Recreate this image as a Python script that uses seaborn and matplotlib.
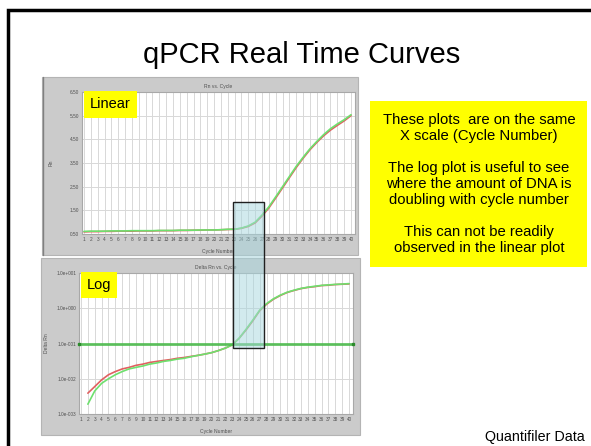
import numpy as np
import pandas as pd
import matplotlib
matplotlib.use('Agg')
import matplotlib.pyplot as plt
from matplotlib.patches import Rectangle
import seaborn as sns

#-------Settings
sns.set_theme(style="white")
plt.rcParams['font.family'] = ['Liberation Sans', 'DejaVu Sans']
plt.rcParams['text.color'] = 'black'

W, H = 591, 446

#------Data
cycles = list(range(1, 41))

rn_green = [0.61, 0.62, 0.62, 0.62, 0.63, 0.63, 0.63, 0.64, 0.64, 0.64,
            0.64, 0.65, 0.65, 0.65, 0.66, 0.66, 0.66, 0.67, 0.67, 0.67,
            0.68, 0.70, 0.70, 0.75, 0.84, 1.00, 1.30, 1.65, 2.07, 2.50,
            2.93, 3.36, 3.74, 4.10, 4.41, 4.70, 4.95, 5.15, 5.33, 5.54]
rn_red = [0.59, 0.60, 0.60, 0.61, 0.61, 0.62, 0.62, 0.62, 0.63, 0.63,
          0.63, 0.64, 0.64, 0.64, 0.65, 0.65, 0.66, 0.66, 0.67, 0.67,
          0.68, 0.69, 0.70, 0.74, 0.82, 0.97, 1.26, 1.60, 2.02, 2.45,
          2.88, 3.31, 3.70, 4.06, 4.37, 4.65, 4.89, 5.09, 5.28, 5.50]

cycles_log = list(range(2, 41))
drn_red = [0.0039, 0.006, 0.0093, 0.013, 0.016, 0.019, 0.021, 0.024, 0.026,
           0.029, 0.031, 0.033, 0.035, 0.038, 0.040, 0.043, 0.046, 0.050, 0.055,
           0.063, 0.074, 0.091, 0.14, 0.24, 0.44, 0.85, 1.3, 1.8, 2.3,
           2.8, 3.2, 3.6, 3.9, 4.1, 4.4, 4.5, 4.7, 4.8, 4.9]
drn_green = [0.0019, 0.0045, 0.0074, 0.010, 0.013, 0.016, 0.019, 0.021, 0.023,
             0.026, 0.028, 0.031, 0.033, 0.036, 0.038, 0.042, 0.046, 0.050, 0.055,
             0.063, 0.074, 0.091, 0.14, 0.25, 0.46, 0.88, 1.35, 1.85, 2.35,
             2.85, 3.25, 3.65, 3.95, 4.2, 4.45, 4.6, 4.75, 4.85, 5.0]
threshold = 0.1

lin_ticks = [0.5, 1.5, 2.5, 3.5, 4.5, 5.5, 6.5]
lin_labels = ['0.50', '1.50', '2.50', '3.50', '4.50', '5.50', '6.50']
log_ticks = [1e-3, 1e-2, 1e-1, 1e0, 1e1]
log_labels = ['1.0e-003', '1.0e-002', '1.0e-001', '1.0e+000', '1.0e+001']

box_cycles = (22.8, 27.6)
box_top_rn = 1.85
box_bottom_drn = 0.077

df_lin = pd.DataFrame({'Cycle': cycles * 2, 'Rn': rn_red + rn_green,
                       'Well': ['A'] * 40 + ['B'] * 40})
df_log = pd.DataFrame({'Cycle': cycles_log * 2, 'Delta Rn': drn_red + drn_green,
                       'Well': ['A'] * 39 + ['B'] * 39})
palette = {'A': '#e06060', 'B': '#6ee06e'}


def rect(x0, y0, x1, y1):
    # pixel box (top-left origin) -> figure fraction
    return [x0 / W, 1 - y1 / H, (x1 - x0) / W, (y1 - y0) / H]


fig = plt.figure(figsize=(W / 100, H / 100), dpi=100)
fig.patch.set_facecolor('white')

# slide border
fig.add_artist(Rectangle((8 / W, -0.05), 1.1, 1 - 10 / H + 0.05, transform=fig.transFigure,
                         fill=False, edgecolor='black', linewidth=2.5))

fig.text(302 / W, 1 - 63 / H, 'qPCR Real Time Curves', ha='center', va='baseline', fontsize=21)

# grey screenshot panels (behind the axes)
for p in [(42, 77, 358, 255), (41, 258, 360, 435)]:
    r = rect(*p)
    fig.add_artist(Rectangle((r[0], r[1]), r[2], r[3], transform=fig.transFigure,
                             facecolor='#cbcbcb', edgecolor='#b4b4b4', linewidth=0.8, zorder=-2))
fig.add_artist(plt.Line2D([42.5 / W, 42.5 / W], [1 - 255 / H, 1 - 77 / H], transform=fig.transFigure,
                          color='#808080', linewidth=1.0, zorder=-1))


def style_axes(ax):
    ax.set_facecolor('white')
    for s in ax.spines.values():
        s.set_color('#a8a8a8')
        s.set_linewidth(0.8)
    ax.set_xticks(cycles)
    ax.set_xticklabels([str(c) for c in cycles])
    ax.tick_params(axis='both', labelsize=3.4, colors='#505050', length=0, pad=2)
    ax.grid(True, color='#d8d8d8', linewidth=0.7)
    ax.set_axisbelow(True)
    ax.set_xlim(0.71, 40.58)
    ax.set_xlabel('Cycle Number', fontsize=3.6, color='#505050', labelpad=5)


def tag(ax, label):
    ax.text(0.028, 0.962, label, transform=ax.transAxes, ha='left', va='top', fontsize=10.5,
            bbox=dict(boxstyle='square,pad=0.42', facecolor='#ffff00', edgecolor='none'))


#------Linear plot
ax1 = fig.add_axes(rect(82, 92, 355, 234))
sns.lineplot(data=df_lin, x='Cycle', y='Rn', hue='Well', palette=palette,
             linewidth=1.2, legend=False, ax=ax1)
style_axes(ax1)
ax1.set_ylim(0.5, 6.5)
ax1.set_yticks(lin_ticks)
ax1.set_yticklabels(lin_labels)
ax1.set_ylabel('Rn', fontsize=3.6, color='#505050', labelpad=12)
ax1.set_title('Rn vs. Cycle', fontsize=3.6, color='#505050', pad=3)
tag(ax1, 'Linear')

#------Log plot
ax2 = fig.add_axes(rect(79, 273, 353, 414))
sns.lineplot(data=df_log, x='Cycle', y='Delta Rn', hue='Well', palette=palette,
             linewidth=1.2, legend=False, ax=ax2)
ax2.set_yscale('log')
style_axes(ax2)
ax2.set_ylim(1e-3, 1e1)
ax2.set_yticks(log_ticks)
ax2.set_yticklabels(log_labels)
ax2.minorticks_off()
ax2.axhline(threshold, color='#45b845', linewidth=2.0, alpha=0.85, zorder=3)
ax2.plot([0.71, 40.58], [threshold, threshold], 's', color='#2a8a2a', markersize=2,
         clip_on=False, zorder=4)
ax2.set_ylabel('Delta Rn', fontsize=3.6, color='#505050', labelpad=5)
ax2.set_title('Delta Rn vs. Cycle', fontsize=3.6, color='#505050', pad=3)
tag(ax2, 'Log')

# highlight box spanning both charts, placed from data coords
fig.canvas.draw()
inv = fig.transFigure.inverted()
x0, y1 = inv.transform(ax1.transData.transform((box_cycles[0], box_top_rn)))
x1, y0 = inv.transform(ax2.transData.transform((box_cycles[1], box_bottom_drn)))
fig.add_artist(Rectangle((x0, y0), x1 - x0, y1 - y0, transform=fig.transFigure,
                         facecolor='#a6d6de', alpha=0.5, edgecolor='none', zorder=10))
fig.add_artist(Rectangle((x0, y0), x1 - x0, y1 - y0, transform=fig.transFigure,
                         fill=False, edgecolor='#202020', linewidth=1.0, zorder=11))

#------Note box
r = rect(370, 101, 587, 267)
fig.add_artist(Rectangle((r[0], r[1]), r[2], r[3], transform=fig.transFigure,
                         facecolor='#ffff00', edgecolor='none'))
note = ('These plots  are on the same\nX scale (Cycle Number)\n\n'
        'The log plot is useful to see\nwhere the amount of DNA is\ndoubling with cycle number\n\n'
        'This can not be readily\nobserved in the linear plot')
fig.text(479 / W, 1 - 184 / H, note, ha='center', va='center', fontsize=10.7,
         linespacing=1.19)

fig.text(585 / W, 1 - 441 / H, 'Quantifiler Data', ha='right', va='baseline', fontsize=10.3)

plt.savefig('out.png', dpi=100)
plt.close()
print("saved")
